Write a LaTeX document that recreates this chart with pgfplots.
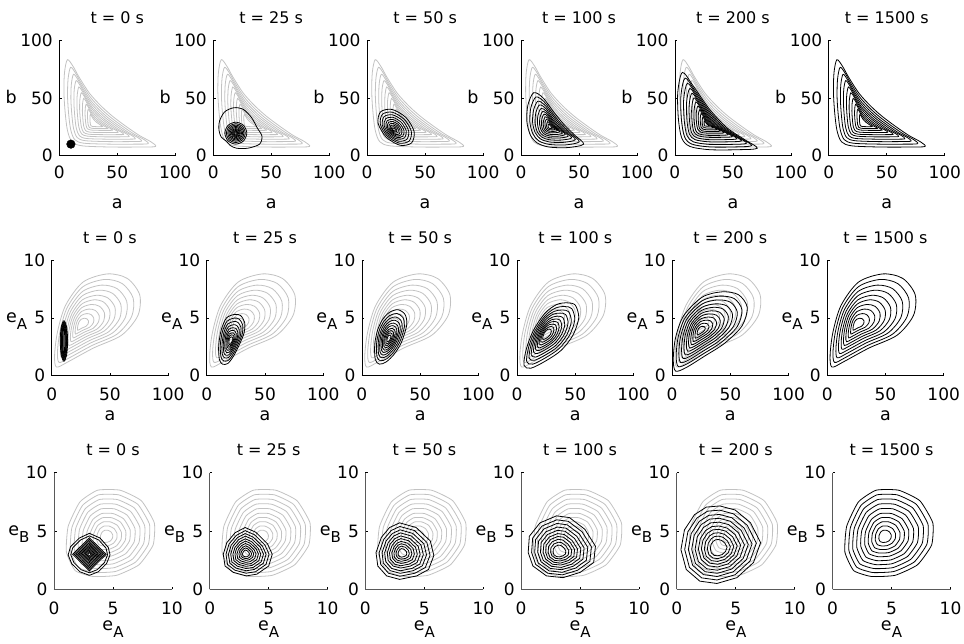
\documentclass[border=0pt]{standalone}
\usepackage{fontspec}
\setmainfont{DejaVu Sans}
\usepackage{pgfplots}
\pgfplotsset{compat=1.18}
\definecolor{cgray}{gray}{0.76}
\newcommand\tf{\fontsize{17}{17}\selectfont}
\newcommand\lf{\fontsize{17.5}{17.5}\selectfont}
\newcommand\ttf{\fontsize{16}{16}\selectfont}
\newcommand\sub[1]{\raisebox{-7pt}{\fontsize{15}{15}\selectfont #1}}
\newcommand\CC[2]{\addplot[#1] coordinates {#2};}
\pgfplotsset{
 gc/.style={draw=cgray, line width=0.8pt, smooth cycle, mark=none},
 bc/.style={draw=black, line width=0.8pt, smooth cycle, mark=none},
 gq/.style={draw=cgray, line width=0.8pt, smooth cycle, tension=0.3, mark=none},
 bq/.style={draw=black, line width=0.8pt, smooth cycle, tension=0.3, mark=none},
 bp/.style={draw=black, line width=0.8pt, sharp cycle, mark=none},
 base/.style={scale only axis, anchor=south west, axis lines=left,
   axis line style={-, line width=0.8pt, black}, tick align=inside,
   major tick length=2.5pt, every tick/.style={black, line width=0.7pt},
   /pgf/number format/assume math mode=true,
   tick label style={font=\tf},
   every axis title/.style={at={(0.5,1)}, anchor=base, yshift=17pt}},
 rowA/.style={base, width=116pt, height=115.7pt, xmin=0, xmax=100, ymin=0, ymax=100,
   xtick={0,50,100}, ytick={0,50,100}, xlabel={a}, ylabel={b},
   every axis x label/.style={at={(0.5,0)}, anchor=base, yshift=-52.5pt, font=\lf},
   every axis y label/.style={at={(0,0.5)}, anchor=base east, xshift=-39pt, yshift=-6pt, font=\lf},
   xticklabel style={yshift=-7pt}, yticklabel style={xshift=-3pt}},
 rowB/.style={base, width=116.5pt, height=115.7pt, xmin=0, xmax=100, ymin=0, ymax=10,
   xtick={0,50,100}, ytick={0,5,10}, xlabel={a}, ylabel={e\sub{A}},
   every axis x label/.style={at={(0.5,0)}, anchor=base, yshift=-44.3pt, font=\lf},
   every axis y label/.style={at={(0,0.5)}, anchor=base east, xshift=-21pt, yshift=-4.5pt, font=\lf},
   xticklabel style={yshift=-8.5pt}, yticklabel style={xshift=-3pt}},
 rowC/.style={base, width=118pt, height=116.6pt, xmin=0, xmax=10, ymin=0, ymax=10,
   xtick={0,5,10}, ytick={0,5,10}, xlabel={e\sub{A}}, ylabel={e\sub{B}},
   axis line style={black!65},
   every axis x label/.style={at={(0.5,0)}, anchor=base, yshift=-40.7pt, font=\lf},
   every axis y label/.style={at={(0,0.5)}, anchor=base east, xshift=-21pt, yshift=-4.5pt, font=\lf},
   xticklabel style={yshift=-9.5pt}, yticklabel style={xshift=-3pt}},
}
% ---------- row 1: final distribution ----------
\newcommand\FamA[1]{%
\CC{#1}{(7,83)(4.5,72)(4,55)(5,38)(7,22)(11,12)(20,8.5)(45,7.5)(70,7.5)(83,8)(79,12)(69,17.5)(58,25)(46,34)(36,43)(26,54)(17,68)(12,77)}
\CC{#1}{(9.8,76.4)(7.6,66.7)(7.1,51.8)(8,36.8)(9.8,22.7)(13.3,13.9)(21.2,10.8)(43.2,10)(65.2,10)(76.6,10.4)(73.1,13.9)(64.3,18.8)(54.6,25.4)(44.1,33.3)(35.3,41.2)(26.5,50.9)(18.6,63.2)(14.2,71.1)}
\CC{#1}{(12.3,70.4)(10.4,61.9)(10,48.8)(10.8,35.7)(12.3,23.4)(15.4,15.7)(22.3,13)(41.6,12.2)(60.8,12.2)(70.8,12.6)(67.7,15.7)(60,19.9)(51.6,25.7)(42.3,32.6)(34.6,39.6)(26.9,48)(20,58.8)(16.1,65.7)}
\CC{#1}{(14.6,64.9)(12.9,57.5)(12.6,46.1)(13.3,34.7)(14.6,24)(17.3,17.3)(23.3,14.9)(40.1,14.3)(56.8,14.3)(65.5,14.6)(62.8,17.3)(56.1,21)(48.8,26)(40.7,32)(34,38.1)(27.3,45.4)(21.3,54.8)(17.9,60.8)}
\CC{#1}{(16.9,59.4)(15.5,53.1)(15.2,43.4)(15.8,33.7)(16.9,24.6)(19.2,18.9)(24.3,16.9)(38.6,16.3)(52.8,16.3)(60.2,16.6)(57.9,18.9)(52.2,22)(46,26.3)(39.1,31.4)(33.4,36.6)(27.7,42.8)(22.6,50.8)(19.7,55.9)}
\CC{#1}{(19,54.4)(17.8,49.1)(17.5,41)(18,32.8)(19,25.1)(20.9,20.3)(25.2,18.6)(37.2,18.2)(49.2,18.2)(55.4,18.4)(53.5,20.3)(48.7,23)(43.4,26.6)(37.7,30.9)(32.9,35.2)(28.1,40.5)(23.8,47.2)(21.4,51.5)}
\CC{#1}{(21,49.5)(20.1,45.2)(19.9,38.5)(20.3,31.9)(21,25.7)(22.6,21.8)(26.1,20.4)(35.9,20)(45.6,20)(50.7,20.2)(49.1,21.8)(45.2,23.9)(40.9,26.8)(36.2,30.3)(32.3,33.9)(28.4,38.1)(24.9,43.6)(23,47.1)}
\CC{#1}{(23.1,44.5)(22.4,41.2)(22.2,36.1)(22.5,31)(23.1,26.2)(24.3,23.2)(27,22.2)(34.5,21.9)(42,21.9)(45.9,22)(44.7,23.2)(41.7,24.9)(38.4,27.1)(34.8,29.8)(31.8,32.5)(28.8,35.8)(26.1,40)(24.6,42.7)}
\CC{#1}{(24.9,40.1)(24.4,37.7)(24.3,33.9)(24.5,30.2)(24.9,26.7)(25.8,24.5)(27.8,23.7)(33.3,23.5)(38.8,23.5)(41.7,23.6)(40.8,24.5)(38.6,25.7)(36.2,27.3)(33.5,29.3)(31.3,31.3)(29.1,33.7)(27.1,36.8)(26,38.8)}
\CC{#1}{(26.8,35.7)(26.4,34.2)(26.4,31.8)(26.5,29.4)(26.8,27.2)(27.3,25.8)(28.6,25.3)(32.1,25.1)(35.6,25.1)(37.4,25.2)(36.9,25.8)(35.5,26.5)(33.9,27.6)(32.2,28.8)(30.8,30.1)(29.4,31.6)(28.2,33.6)(27.5,34.9)}
}
\newcommand\PanAb{%
\CC{bc}{(18,41.5)(10,38)(5.5,30)(5,22)(7,16)(11.5,12.5)(14.5,9)(20,6.5)(30,6.5)(40,10)(42,17)(38,24)(33,33)(26,40)}
\CC{bc}{(29,19.5)(26.2,26.2)(19.5,29)(12.8,26.2)(10,19.5)(12.8,12.8)(19.5,10)(26.2,12.8)}
\CC{bc}{(27.7,19.5)(25.3,25.3)(19.5,27.7)(13.7,25.3)(11.3,19.5)(13.7,13.7)(19.5,11.3)(25.3,13.7)}
\CC{bc}{(26.5,19.5)(24.45,24.45)(19.5,26.5)(14.55,24.45)(12.5,19.5)(14.55,14.55)(19.5,12.5)(24.45,14.55)}
\CC{bc}{(25.4,19.5)(23.67,23.67)(19.5,25.4)(15.33,23.67)(13.6,19.5)(15.33,15.33)(19.5,13.6)(23.67,15.33)}
\CC{bc}{(24.4,19.5)(22.96,22.96)(19.5,24.4)(16.04,22.96)(14.6,19.5)(16.04,16.04)(19.5,14.6)(22.96,16.04)}
\CC{bc}{(23.5,19.5)(22.33,22.33)(19.5,23.5)(16.67,22.33)(15.5,19.5)(16.67,16.67)(19.5,15.5)(22.33,16.67)}
\CC{bc}{(22.7,19.5)(21.76,21.76)(19.5,22.7)(17.24,21.76)(16.3,19.5)(17.24,17.24)(19.5,16.3)(21.76,17.24)}
\CC{bc}{(21.9,19.5)(21.2,21.2)(19.5,21.9)(17.8,21.2)(17.1,19.5)(17.8,17.8)(19.5,17.1)(21.2,17.8)}
\CC{bc}{(21.2,19.5)(20.7,20.7)(19.5,21.2)(18.3,20.7)(17.8,19.5)(18.3,18.3)(19.5,17.8)(20.7,18.3)}
\CC{bc}{(20.5,19.5)(20.21,20.21)(19.5,20.5)(18.79,20.21)(18.5,19.5)(18.79,18.79)(19.5,18.5)(20.21,18.79)}
}
\newcommand\PanAc{%
\CC{bc}{(38.4,11.1)(40.5,21)(33.5,33)(21.5,40)(11.6,37.9)(9.5,28)(16.5,16)(28.5,9)}
\CC{bc}{(36.3,12.7)(38.1,21.2)(32,31.5)(21.7,37.6)(13.2,35.8)(11.4,27.2)(17.4,16.9)(27.7,10.9)}
\CC{bc}{(34.3,14.2)(35.8,21.4)(30.7,30.2)(21.9,35.3)(14.7,33.8)(13.1,26.5)(18.3,17.8)(27,12.6)}
\CC{bc}{(32.4,15.5)(33.7,21.6)(29.4,28.9)(22.1,33.2)(16,31.9)(14.8,25.9)(19,18.5)(26.4,14.3)}
\CC{bc}{(30.7,16.8)(31.8,21.8)(28.2,27.7)(22.3,31.3)(17.3,30.2)(16.3,25.3)(19.8,19.3)(25.8,15.8)}
\CC{bc}{(29.2,17.9)(30,21.9)(27.2,26.7)(22.4,29.5)(18.4,28.7)(17.6,24.7)(20.4,19.9)(25.2,17.1)}
\CC{bc}{(27.8,19)(28.4,22)(26.3,25.8)(22.5,27.9)(19.5,27.3)(18.8,24.2)(21,20.5)(24.7,18.3)}
\CC{bc}{(26.6,19.9)(27,22.2)(25.4,24.9)(22.7,26.5)(20.4,26.1)(19.9,23.8)(21.5,21)(24.3,19.4)}
\CC{bc}{(25.3,20.8)(25.6,22.3)(24.6,24.1)(22.8,25.1)(21.3,24.8)(21,23.3)(22,21.5)(23.8,20.5)}
\CC{bc}{(24.2,21.6)(24.4,22.4)(23.8,23.3)(22.9,23.9)(22.1,23.7)(21.9,22.9)(22.5,22)(23.4,21.4)}
}
\newcommand\PanAd{%
\CC{bc}{(11,54.5)(6,44)(5,30)(8,18)(14,11)(24,7.5)(40,7)(54,10)(46,18)(37,27)(28,38)(19,50)}
\CC{bc}{(12.8,50.7)(8.5,41.5)(7.6,29.4)(10.2,18.9)(15.4,12.8)(24.1,9.8)(38.1,9.3)(50.2,12)(43.3,18.9)(35.4,26.7)(27.6,36.3)(19.8,46.8)}
\CC{bc}{(14.5,47.1)(10.8,39.3)(10,28.8)(12.3,19.8)(16.8,14.5)(24.3,11.9)(36.3,11.5)(46.8,13.8)(40.8,19.8)(34,26.5)(27.3,34.8)(20.5,43.8)}
\CC{bc}{(16,43.9)(12.8,37.2)(12.2,28.2)(14.1,20.5)(18,16)(24.4,13.8)(34.6,13.5)(43.6,15.4)(38.4,20.5)(32.7,26.3)(26.9,33.3)(21.2,41)}
\CC{bc}{(17.4,40.9)(14.7,35.3)(14.2,27.7)(15.8,21.2)(19.1,17.4)(24.5,15.6)(33.1,15.3)(40.7,16.9)(36.3,21.2)(31.5,26.1)(26.6,32)(21.8,38.5)}
\CC{bc}{(18.7,38.3)(16.5,33.6)(16,27.3)(17.4,21.9)(20.1,18.7)(24.6,17.1)(31.8,16.9)(38.1,18.3)(34.5,21.9)(30.4,25.9)(26.4,30.9)(22.3,36.3)}
\CC{bc}{(19.8,35.9)(18,32)(17.6,26.9)(18.7,22.4)(20.9,19.8)(24.6,18.5)(30.6,18.3)(35.7,19.5)(32.8,22.4)(29.4,25.7)(26.1,29.8)(22.8,34.3)}
\CC{bc}{(20.9,33.6)(19.5,30.5)(19.2,26.5)(20.1,23)(21.8,20.9)(24.7,19.9)(29.4,19.8)(33.4,20.7)(31.1,23)(28.5,25.6)(25.9,28.8)(23.3,32.3)}
\CC{bc}{(21.9,31.5)(20.8,29.2)(20.6,26.1)(21.3,23.5)(22.6,21.9)(24.8,21.2)(28.3,21)(31.4,21.7)(29.6,23.5)(27.6,25.4)(25.7,27.9)(23.7,30.5)}
\CC{bc}{(22.9,29.4)(22.2,27.9)(22,25.8)(22.5,24)(23.4,22.9)(24.9,22.4)(27.3,22.3)(29.4,22.8)(28.2,24)(26.8,25.3)(25.5,27)(24.1,28.8)}
\CC{bc}{(23.9,27.4)(23.5,26.5)(23.4,25.4)(23.6,24.4)(24.1,23.9)(24.9,23.6)(26.2,23.6)(27.3,23.8)(26.7,24.4)(26,25.2)(25.2,26)(24.5,27)}
}
\newcommand\PanAe{%
\CC{bc}{(6.5,72)(2.5,55)(3,32)(6,15)(13,8)(30,5.2)(55,5.2)(71,6.5)(60,14)(45,24)(30,40)(16,60)}
\CC{bc}{(8.8,67.1)(5.2,51.9)(5.6,31.5)(8.3,16.3)(14.5,10.1)(29.7,7.6)(51.9,7.6)(66.2,8.8)(56.4,15.4)(43,24.3)(29.7,38.6)(17.2,56.4)}
\CC{bc}{(10.8,62.6)(7.6,49.1)(8,31)(10.4,17.5)(15.9,12)(29.4,9.8)(49.1,9.8)(61.8,10.8)(53.1,16.7)(41.2,24.6)(29.4,37.3)(18.3,53.1)}
\CC{bc}{(12.9,58.1)(10.1,46.3)(10.4,30.5)(12.5,18.7)(17.3,13.9)(29.1,12)(46.3,12)(57.4,12.9)(49.8,18)(39.4,24.9)(29.1,36)(19.4,49.8)}
\CC{bc}{(14.7,54)(12.3,43.8)(12.6,30)(14.4,19.8)(18.6,15.6)(28.8,13.9)(43.8,13.9)(53.4,14.7)(46.8,19.2)(37.8,25.2)(28.8,34.8)(20.4,46.8)}
\CC{bc}{(16.5,50)(14.5,41.3)(14.8,29.6)(16.3,20.9)(19.9,17.3)(28.5,15.9)(41.3,15.9)(49.4,16.5)(43.8,20.4)(36.2,25.5)(28.5,33.6)(21.4,43.8)}
\CC{bc}{(18.2,46.4)(16.5,39)(16.7,29.2)(18,21.8)(21,18.8)(28.3,17.6)(39,17.6)(45.9,18.2)(41.2,21.4)(34.7,25.7)(28.3,32.6)(22.3,41.2)}
\CC{bc}{(19.8,42.8)(18.4,36.8)(18.6,28.8)(19.7,22.8)(22.1,20.4)(28.1,19.4)(36.8,19.4)(42.4,19.8)(38.6,22.5)(33.3,26)(28.1,31.6)(23.2,38.6)}
\CC{bc}{(21.3,39.6)(20.1,34.8)(20.3,28.4)(21.1,23.6)(23.1,21.7)(27.8,20.9)(34.8,20.9)(39.3,21.3)(36.2,23.4)(32,26.2)(27.8,30.6)(23.9,36.2)}
\CC{bc}{(22.7,36.5)(21.9,32.9)(22,28.1)(22.6,24.5)(24.1,23)(27.6,22.4)(32.9,22.4)(36.2,22.7)(33.9,24.3)(30.8,26.4)(27.6,29.7)(24.7,33.9)}
\CC{bc}{(24.1,33.3)(23.6,30.9)(23.6,27.7)(24.1,25.3)(25,24.3)(27.4,23.9)(30.9,23.9)(33.2,24.1)(31.6,25.2)(29.5,26.6)(27.4,28.8)(25.5,31.6)}
\CC{bc}{(25.6,30.2)(25.3,29)(25.3,27.4)(25.5,26.2)(26,25.7)(27.2,25.5)(29,25.5)(30.1,25.6)(29.3,26.1)(28.3,26.8)(27.2,27.9)(26.2,29.3)}
}
% ---------- row 2 ----------
\newcommand\FamB[1]{%
\CC{#1}{(48,8.8)(65,8.4)(75.5,7)(74,5.2)(60,3.5)(36,2.4)(14,1.2)(4,0.75)(2.5,1.8)(5,3.8)(12,6.1)(27,8.1)}
\CC{#1}{(45.5,8.32)(60.6,7.96)(69.9,6.71)(68.6,5.11)(56.2,3.6)(34.8,2.62)(15.2,1.55)(6.3,1.15)(5,2.09)(7.2,3.87)(13.4,5.91)(26.8,7.69)}
\CC{#1}{(42.9,7.83)(56.2,7.52)(64.4,6.43)(63.2,5.02)(52.3,3.7)(33.6,2.84)(16.4,1.9)(8.6,1.55)(7.5,2.37)(9.4,3.93)(14.9,5.73)(26.6,7.29)}
\CC{#1}{(40.6,7.39)(52.2,7.12)(59.3,6.17)(58.3,4.94)(48.8,3.79)(32.5,3.04)(17.5,2.22)(10.7,1.92)(9.7,2.63)(11.4,3.99)(16.2,5.56)(26.4,6.92)}
\CC{#1}{(38.3,6.95)(48.2,6.72)(54.3,5.91)(53.4,4.86)(45.3,3.88)(31.4,3.24)(18.6,2.54)(12.8,2.28)(12,2.89)(13.4,4.05)(17.5,5.39)(26.2,6.55)}
\CC{#1}{(36.3,6.56)(44.6,6.36)(49.7,5.67)(49,4.79)(42.2,3.96)(30.4,3.42)(19.6,2.83)(14.7,2.61)(14,3.13)(15.2,4.11)(18.6,5.23)(26,6.21)}
\CC{#1}{(34.2,6.16)(41,6)(45.2,5.44)(44.6,4.72)(39,4.04)(29.4,3.6)(20.6,3.12)(16.6,2.94)(16,3.36)(17,4.16)(19.8,5.08)(25.8,5.88)}
\CC{#1}{(32.1,5.76)(37.4,5.64)(40.7,5.21)(40.2,4.65)(35.9,4.12)(28.4,3.78)(21.6,3.41)(18.5,3.27)(18,3.59)(18.8,4.21)(21,4.93)(25.6,5.55)}
\CC{#1}{(30.1,5.37)(33.8,5.28)(36.1,4.97)(35.8,4.58)(32.7,4.2)(27.4,3.96)(22.6,3.7)(20.4,3.6)(20.1,3.83)(20.6,4.27)(22.1,4.77)(25.4,5.21)}
\CC{#1}{(28,4.97)(30.2,4.92)(31.6,4.74)(31.4,4.5)(29.6,4.28)(26.4,4.14)(23.6,3.98)(22.3,3.93)(22.1,4.06)(22.4,4.32)(23.3,4.62)(25.3,4.88)}
}
\newcommand\PanBa{%
\CC{bc}{(13.7,3)(12.76,4.24)(10.5,4.75)(8.24,4.24)(7.3,3)(8.24,1.76)(10.5,1.25)(12.76,1.76)}
\CC{bc}{(13.2,3)(12.41,4.17)(10.5,4.65)(8.59,4.17)(7.8,3)(8.59,1.83)(10.5,1.35)(12.41,1.83)}
\CC{bc}{(12.7,3)(12.06,4.1)(10.5,4.55)(8.94,4.1)(8.3,3)(8.94,1.9)(10.5,1.45)(12.06,1.9)}
\CC{bc}{(12.2,3)(11.7,4.03)(10.5,4.45)(9.3,4.03)(8.8,3)(9.3,1.97)(10.5,1.55)(11.7,1.97)}
\CC{bc}{(11.7,3)(11.35,3.95)(10.5,4.35)(9.65,3.95)(9.3,3)(9.65,2.05)(10.5,1.65)(11.35,2.05)}
\CC{bc}{(11.2,3)(10.99,3.88)(10.5,4.25)(10.01,3.88)(9.8,3)(10.01,2.12)(10.5,1.75)(10.99,2.12)}
}
\newcommand\PanBb{%
\CC{bc}{(24,5.3)(17,5)(12.5,4)(10.2,2.6)(10.8,1.4)(13.5,1)(18,1.05)(23,1.7)(28,2.7)(32,3.7)(32.5,4.6)(29,5.2)}
\CC{bc}{(23.5,4.98)(17.5,4.72)(13.6,3.86)(11.6,2.66)(12.2,1.62)(14.5,1.28)(18.4,1.32)(22.7,1.88)(27,2.74)(30.4,3.6)(30.8,4.38)(27.8,4.89)}
\CC{bc}{(23.1,4.68)(17.9,4.46)(14.7,3.73)(13,2.71)(13.4,1.83)(15.4,1.54)(18.7,1.58)(22.3,2.05)(26,2.78)(28.9,3.51)(29.3,4.17)(26.7,4.61)}
\CC{bc}{(22.6,4.4)(18.4,4.22)(15.6,3.61)(14.2,2.76)(14.6,2.02)(16.2,1.78)(19,1.81)(22,2.21)(25.1,2.82)(27.5,3.43)(27.8,3.98)(25.7,4.34)}
\CC{bc}{(22.3,4.15)(18.8,4)(16.5,3.5)(15.4,2.8)(15.7,2.2)(17,2)(19.3,2.03)(21.8,2.35)(24.3,2.85)(26.3,3.35)(26.5,3.8)(24.8,4.1)}
\CC{bc}{(21.9,3.92)(19.1,3.8)(17.3,3.4)(16.4,2.84)(16.6,2.36)(17.7,2.2)(19.5,2.22)(21.5,2.48)(23.5,2.88)(25.1,3.28)(25.3,3.64)(23.9,3.88)}
\CC{bc}{(21.6,3.71)(19.4,3.62)(18,3.31)(17.3,2.88)(17.5,2.5)(18.3,2.38)(19.7,2.4)(21.3,2.6)(22.8,2.91)(24.1,3.22)(24.2,3.5)(23.1,3.68)}
\CC{bc}{(21.3,3.53)(19.7,3.46)(18.7,3.23)(18.1,2.91)(18.3,2.63)(18.9,2.54)(19.9,2.55)(21.1,2.7)(22.2,2.93)(23.1,3.16)(23.3,3.37)(22.5,3.51)}
\CC{bc}{(21,3.35)(20,3.3)(19.3,3.15)(19,2.94)(19,2.76)(19.5,2.7)(20.1,2.71)(20.9,2.81)(21.6,2.96)(22.2,3.11)(22.3,3.24)(21.8,3.33)}
}
\newcommand\PanBc{%
\CC{bc}{(31,5.7)(24,5.5)(18,4.9)(13.5,3.95)(11,2.7)(11.5,1.4)(15,1)(21,1.2)(28,1.9)(34,2.9)(38.5,4.4)(37,5.3)}
\CC{bc}{(30,5.38)(23.9,5.2)(18.7,4.68)(14.7,3.85)(12.6,2.77)(13,1.63)(16,1.29)(21.3,1.46)(27.4,2.07)(32.6,2.94)(36.5,4.24)(35.2,5.03)}
\CC{bc}{(29,5.08)(23.8,4.93)(19.3,4.48)(15.9,3.76)(14,2.83)(14.4,1.85)(17,1.55)(21.5,1.7)(26.8,2.23)(31.3,2.98)(34.6,4.1)(33.5,4.78)}
\CC{bc}{(28.1,4.8)(23.6,4.67)(19.8,4.29)(16.9,3.68)(15.3,2.88)(15.6,2.05)(17.9,1.79)(21.7,1.92)(26.2,2.37)(30,3.01)(32.9,3.97)(32,4.54)}
\CC{bc}{(27.3,4.55)(23.5,4.44)(20.3,4.12)(17.9,3.61)(16.5,2.93)(16.8,2.23)(18.7,2.01)(21.9,2.12)(25.7,2.5)(28.9,3.04)(31.4,3.85)(30.6,4.33)}
\CC{bc}{(26.6,4.33)(23.5,4.24)(20.8,3.97)(18.7,3.54)(17.6,2.98)(17.8,2.39)(19.4,2.21)(22.1,2.3)(25.3,2.62)(28,3.07)(30,3.74)(29.3,4.15)}
\CC{bc}{(25.9,4.1)(23.4,4.03)(21.2,3.81)(19.6,3.47)(18.7,3.02)(18.9,2.55)(20.1,2.41)(22.3,2.48)(24.8,2.73)(27,3.09)(28.6,3.63)(28,3.96)}
\CC{bc}{(25.2,3.9)(23.3,3.84)(21.6,3.68)(20.3,3.41)(19.6,3.06)(19.8,2.7)(20.8,2.58)(22.4,2.64)(24.4,2.84)(26.1,3.12)(27.3,3.54)(26.9,3.79)}
\CC{bc}{(24.6,3.7)(23.2,3.66)(22,3.54)(21.1,3.35)(20.6,3.1)(20.7,2.84)(21.4,2.76)(22.6,2.8)(24,2.94)(25.2,3.14)(26.1,3.44)(25.8,3.62)}
\CC{bc}{(24,3.5)(23.1,3.48)(22.4,3.4)(21.9,3.29)(21.6,3.14)(21.6,2.98)(22,2.94)(22.8,2.96)(23.6,3.04)(24.3,3.16)(24.9,3.34)(24.7,3.45)}
}
\newcommand\PanBd{%
\CC{bc}{(43,6.3)(50,6.1)(53,5)(48,3.5)(38,2.2)(25,1.3)(12,0.65)(6,0.9)(8,2.3)(14,3.9)(24,5.4)(34,6.15)}
\CC{bc}{(40.8,5.98)(47,5.8)(49.6,4.83)(45.2,3.51)(36.4,2.37)(25,1.58)(13.6,1)(8.3,1.22)(10,2.46)(15.3,3.86)(24.1,5.18)(32.9,5.84)}
\CC{bc}{(38.9,5.68)(44.3,5.53)(46.6,4.68)(42.7,3.52)(35,2.52)(25,1.83)(15,1.33)(10.4,1.52)(11.9,2.6)(16.5,3.83)(24.2,4.99)(31.9,5.56)}
\CC{bc}{(37.1,5.41)(41.8,5.28)(43.8,4.54)(40.4,3.53)(33.7,2.66)(25,2.06)(16.3,1.62)(12.3,1.79)(13.6,2.73)(17.6,3.8)(24.3,4.81)(31,5.31)}
\CC{bc}{(35.3,5.14)(39.3,5.03)(41,4.4)(38.1,3.54)(32.4,2.8)(25,2.29)(17.6,1.92)(14.2,2.06)(15.3,2.86)(18.7,3.77)(24.4,4.63)(30.1,5.05)}
\CC{bc}{(33.6,4.9)(37,4.8)(38.4,4.27)(36,3.55)(31.2,2.93)(25,2.5)(18.8,2.18)(15.9,2.3)(16.8,2.98)(19.7,3.74)(24.5,4.46)(29.3,4.82)}
\CC{bc}{(32.2,4.68)(35,4.6)(36.2,4.16)(34.2,3.56)(30.2,3.04)(25,2.68)(19.8,2.42)(17.4,2.52)(18.2,3.08)(20.6,3.72)(24.6,4.32)(28.6,4.62)}
\CC{bc}{(30.8,4.46)(33,4.4)(34,4.05)(32.4,3.57)(29.2,3.15)(25,2.86)(20.8,2.66)(18.9,2.74)(19.6,3.18)(21.5,3.7)(24.7,4.18)(27.9,4.42)}
\CC{bc}{(29.3,4.25)(31,4.2)(31.7,3.94)(30.5,3.58)(28.1,3.26)(25,3.05)(21.9,2.89)(20.4,2.95)(20.9,3.29)(22.4,3.67)(24.8,4.03)(27.2,4.21)}
\CC{bc}{(27.9,4.03)(29,4)(29.5,3.82)(28.7,3.58)(27.1,3.38)(25,3.23)(22.9,3.13)(22,3.17)(22.3,3.39)(23.2,3.65)(24.8,3.89)(26.4,4.01)}
}
\newcommand\PanBe{%
\CC{bc}{(43,7.25)(57,7)(64.5,5.9)(60,4.3)(45,2.8)(28,1.7)(12,0.7)(3,0.4)(1,1.4)(3,3.3)(10,5.2)(26,6.8)}
\CC{bc}{(40.9,6.88)(53.4,6.66)(60,5.68)(56,4.26)(42.7,2.92)(27.6,1.94)(13.3,1.05)(5.3,0.79)(3.5,1.68)(5.3,3.37)(11.5,5.06)(25.8,6.48)}
\CC{bc}{(39,6.55)(50.1,6.35)(56,5.48)(52.4,4.22)(40.6,3.03)(27.2,2.16)(14.5,1.37)(7.4,1.14)(5.8,1.93)(7.4,3.43)(12.9,4.93)(25.6,6.19)}
\CC{bc}{(37.1,6.21)(46.8,6.04)(51.9,5.28)(48.8,4.18)(38.5,3.14)(26.8,2.38)(15.7,1.69)(9.5,1.49)(8.1,2.18)(9.5,3.49)(14.3,4.8)(25.4,5.9)}
\CC{bc}{(35.4,5.91)(43.8,5.76)(48.3,5.1)(45.6,4.14)(36.6,3.24)(26.4,2.58)(16.8,1.98)(11.4,1.8)(10.2,2.4)(11.4,3.54)(15.6,4.68)(25.2,5.64)}
\CC{bc}{(33.7,5.61)(40.8,5.48)(44.7,4.92)(42.4,4.1)(34.7,3.34)(26,2.78)(17.9,2.27)(13.3,2.12)(12.3,2.63)(13.3,3.59)(16.9,4.56)(25,5.38)}
\CC{bc}{(32.2,5.34)(38.2,5.23)(41.4,4.76)(39.5,4.07)(33,3.43)(25.7,2.95)(18.8,2.52)(15,2.4)(14.1,2.83)(15,3.64)(18,4.46)(24.9,5.15)}
\CC{bc}{(30.7,5.07)(35.6,4.99)(38.2,4.6)(36.6,4.04)(31.4,3.52)(25.4,3.13)(19.8,2.78)(16.7,2.68)(16,3.03)(16.7,3.69)(19.1,4.36)(24.7,4.92)}
\CC{bc}{(29.1,4.8)(32.9,4.74)(34.9,4.44)(33.7,4.01)(29.7,3.6)(25.1,3.31)(20.8,3.04)(18.3,2.96)(17.8,3.23)(18.3,3.74)(20.2,4.25)(24.5,4.68)}
\CC{bc}{(27.6,4.54)(30.3,4.49)(31.7,4.28)(30.8,3.98)(28,3.69)(24.8,3.48)(21.7,3.29)(20,3.24)(19.6,3.43)(20,3.79)(21.3,4.15)(24.4,4.45)}
\CC{bc}{(26.1,4.27)(27.6,4.24)(28.5,4.12)(28,3.94)(26.3,3.78)(24.4,3.66)(22.7,3.55)(21.7,3.52)(21.5,3.63)(21.7,3.83)(22.5,4.04)(24.2,4.22)}
}
% ---------- row 3 ----------
\newcommand\FamC[1]{%
\CC{#1}{(3.7,8.5)(5.6,8.5)(7.4,7.6)(8.5,5.7)(8.4,3.8)(7.2,2.1)(5.3,1.2)(3.3,1.1)(1.8,1.6)(1.05,3.2)(1.2,5.4)(2.2,7.5)}
\CC{#1}{(3.77,8.1)(5.48,8.1)(7.1,7.29)(8.09,5.58)(8,3.87)(6.92,2.34)(5.21,1.53)(3.41,1.44)(2.06,1.89)(1.39,3.33)(1.52,5.31)(2.42,7.2)}
\CC{#1}{(3.84,7.7)(5.36,7.7)(6.8,6.98)(7.68,5.46)(7.6,3.94)(6.64,2.58)(5.12,1.86)(3.52,1.78)(2.32,2.18)(1.72,3.46)(1.84,5.22)(2.64,6.9)}
\CC{#1}{(3.91,7.3)(5.24,7.3)(6.5,6.67)(7.27,5.34)(7.2,4.01)(6.36,2.82)(5.03,2.19)(3.63,2.12)(2.58,2.47)(2.06,3.59)(2.16,5.13)(2.86,6.6)}
\CC{#1}{(3.98,6.9)(5.12,6.9)(6.2,6.36)(6.86,5.22)(6.8,4.08)(6.08,3.06)(4.94,2.52)(3.74,2.46)(2.84,2.76)(2.39,3.72)(2.48,5.04)(3.08,6.3)}
\CC{#1}{(4.05,6.5)(5,6.5)(5.9,6.05)(6.45,5.1)(6.4,4.15)(5.8,3.3)(4.85,2.85)(3.85,2.8)(3.1,3.05)(2.73,3.85)(2.8,4.95)(3.3,6)}
\CC{#1}{(4.11,6.14)(4.89,6.14)(5.63,5.77)(6.08,4.99)(6.04,4.21)(5.55,3.52)(4.77,3.15)(3.95,3.11)(3.33,3.31)(3.03,3.97)(3.09,4.87)(3.5,5.73)}
\CC{#1}{(4.18,5.78)(4.78,5.78)(5.36,5.49)(5.71,4.88)(5.68,4.28)(5.3,3.73)(4.69,3.44)(4.05,3.41)(3.57,3.57)(3.33,4.08)(3.38,4.79)(3.7,5.46)}
\CC{#1}{(4.24,5.42)(4.68,5.42)(5.09,5.21)(5.34,4.78)(5.32,4.34)(5.04,3.95)(4.61,3.74)(4.15,3.72)(3.8,3.83)(3.63,4.2)(3.66,4.71)(3.89,5.19)}
\CC{#1}{(4.3,5.06)(4.57,5.06)(4.82,4.93)(4.97,4.67)(4.96,4.4)(4.79,4.16)(4.53,4.04)(4.25,4.02)(4.04,4.09)(3.93,4.32)(3.95,4.63)(4.09,4.92)}
}
\newcommand\PanCa{%
\CC{bp}{(3,4.8)(3.9,4.4)(4.6,3.6)(4.75,2.95)(4.45,2.2)(3.75,1.5)(3,1.2)(2.2,1.5)(1.5,2.2)(1.2,2.95)(1.4,3.65)(2.15,4.4)}
\CC{bp}{(3,4.58)(3.79,4.23)(4.41,3.53)(4.54,2.96)(4.28,2.3)(3.66,1.68)(3,1.42)(2.3,1.68)(1.68,2.3)(1.42,2.96)(1.59,3.57)(2.25,4.23)}
\CC{bp}{(3,4.42)(4.42,3)(3,1.58)(1.58,3)}
\CC{bp}{(3,4.28)(4.28,3)(3,1.72)(1.72,3)}
\CC{bp}{(3,4.14)(4.14,3)(3,1.86)(1.86,3)}
\CC{bp}{(3,4)(4,3)(3,2)(2,3)}
\CC{bp}{(3,3.87)(3.87,3)(3,2.13)(2.13,3)}
\CC{bp}{(3,3.74)(3.74,3)(3,2.26)(2.26,3)}
\CC{bp}{(3,3.62)(3.62,3)(3,2.38)(2.38,3)}
\CC{bp}{(3,3.5)(3.5,3)(3,2.5)(2.5,3)}
\CC{bp}{(3,3.38)(3.38,3)(3,2.62)(2.62,3)}
\CC{bp}{(3,3.26)(3.26,3)(3,2.74)(2.74,3)}
\CC{bp}{(3,3.14)(3.14,3)(3,2.86)(2.86,3)}
}
\newcommand\PanCb{%
\CC{bp}{(3,5.3)(3.9,4.9)(4.9,3.9)(5.3,3)(5,2)(4,1.3)(3.1,1.15)(2,1.45)(1.3,2)(1.15,3)(1.45,4)(2.15,4.85)}
\CC{bp}{(3.01,5.03)(3.8,4.68)(4.68,3.8)(5.03,3.01)(4.77,2.13)(3.89,1.51)(3.09,1.38)(2.13,1.64)(1.51,2.13)(1.38,3.01)(1.64,3.89)(2.26,4.63)}
\CC{bp}{(3.01,4.78)(3.7,4.47)(4.47,3.7)(4.78,3.01)(4.55,2.24)(3.78,1.7)(3.09,1.59)(2.24,1.82)(1.7,2.24)(1.59,3.01)(1.82,3.78)(2.36,4.44)}
\CC{bp}{(3.02,4.56)(3.62,4.29)(4.29,3.62)(4.56,3.02)(4.36,2.35)(3.69,1.88)(3.08,1.78)(2.35,1.98)(1.88,2.35)(1.78,3.02)(1.98,3.69)(2.45,4.26)}
\CC{bp}{(3.02,4.33)(3.53,4.1)(4.1,3.53)(4.33,3.02)(4.16,2.45)(3.59,2.05)(3.08,1.97)(2.45,2.14)(2.05,2.45)(1.97,3.02)(2.14,3.59)(2.54,4.08)}
\CC{bp}{(3.03,4.13)(3.46,3.94)(3.94,3.46)(4.13,3.03)(3.99,2.55)(3.51,2.21)(3.07,2.14)(2.55,2.28)(2.21,2.55)(2.14,3.03)(2.28,3.51)(2.62,3.91)}
\CC{bp}{(3.03,3.93)(3.38,3.77)(3.77,3.38)(3.93,3.03)(3.81,2.64)(3.42,2.37)(3.07,2.31)(2.64,2.43)(2.37,2.64)(2.31,3.03)(2.43,3.42)(2.7,3.75)}
\CC{bp}{(3.04,3.73)(3.31,3.61)(3.61,3.31)(3.73,3.04)(3.64,2.74)(3.34,2.53)(3.07,2.48)(2.74,2.57)(2.53,2.74)(2.48,3.04)(2.57,3.34)(2.78,3.59)}
\CC{bp}{(3.04,3.55)(3.24,3.46)(3.46,3.24)(3.55,3.04)(3.48,2.82)(3.26,2.67)(3.06,2.63)(2.82,2.7)(2.67,2.82)(2.63,3.04)(2.7,3.26)(2.85,3.45)}
\CC{bp}{(3.04,3.37)(3.17,3.31)(3.31,3.17)(3.37,3.04)(3.32,2.9)(3.18,2.81)(3.06,2.78)(2.9,2.83)(2.81,2.9)(2.78,3.04)(2.83,3.18)(2.92,3.3)}
}
\newcommand\PanCc{%
\CC{bp}{(2.9,5.7)(4.3,5.3)(5.5,4.15)(5.8,2.9)(5.35,1.7)(4.35,1.15)(2.9,0.85)(1.8,1.15)(1.05,2)(0.9,3.15)(1.35,4.45)(2.05,5.3)}
\CC{bp}{(2.92,5.39)(4.16,5.04)(5.21,4.02)(5.48,2.92)(5.08,1.87)(4.2,1.38)(2.92,1.12)(1.96,1.38)(1.3,2.13)(1.16,3.14)(1.56,4.29)(2.18,5.04)}
\CC{bp}{(2.95,5.1)(4.02,4.79)(4.95,3.91)(5.18,2.95)(4.83,2.02)(4.06,1.6)(2.95,1.37)(2.1,1.6)(1.52,2.25)(1.41,3.14)(1.75,4.14)(2.29,4.79)}
\CC{bp}{(2.97,4.84)(3.9,4.57)(4.71,3.8)(4.91,2.97)(4.61,2.16)(3.94,1.79)(2.97,1.59)(2.23,1.79)(1.73,2.36)(1.63,3.13)(1.93,4)(2.4,4.57)}
\CC{bp}{(2.99,4.58)(3.78,4.35)(4.47,3.7)(4.64,2.99)(4.38,2.3)(3.81,1.99)(2.99,1.82)(2.36,1.99)(1.93,2.47)(1.85,3.13)(2.1,3.87)(2.5,4.35)}
\CC{bp}{(3,4.35)(3.68,4.16)(4.25,3.6)(4.4,3)(4.18,2.43)(3.7,2.16)(3,2.02)(2.48,2.16)(2.12,2.57)(2.04,3.12)(2.26,3.75)(2.6,4.16)}
\CC{bp}{(3.02,4.11)(3.57,3.96)(4.04,3.51)(4.15,3.02)(3.98,2.55)(3.59,2.34)(3.02,2.22)(2.59,2.34)(2.3,2.67)(2.24,3.12)(2.42,3.63)(2.69,3.96)}
\CC{bp}{(3.04,3.91)(3.47,3.78)(3.84,3.43)(3.94,3.04)(3.8,2.67)(3.49,2.5)(3.04,2.4)(2.7,2.5)(2.46,2.76)(2.42,3.12)(2.56,3.52)(2.77,3.78)}
\CC{bp}{(3.05,3.7)(3.38,3.61)(3.65,3.34)(3.72,3.05)(3.62,2.78)(3.39,2.65)(3.05,2.58)(2.8,2.65)(2.63,2.85)(2.59,3.11)(2.7,3.41)(2.86,3.61)}
\CC{bp}{(3.07,3.49)(3.28,3.43)(3.46,3.26)(3.51,3.07)(3.44,2.89)(3.29,2.81)(3.07,2.76)(2.91,2.81)(2.79,2.94)(2.77,3.11)(2.84,3.3)(2.94,3.43)}
}
\newcommand\PanCd{%
\CC{bp}{(3,6.3)(4.1,6.15)(5.4,5.15)(6.3,3.7)(6.15,2.3)(5,1.45)(3.55,1)(2.15,1.15)(1,2)(0.6,3.15)(0.7,4.55)(1.6,5.7)}
\CC{bp}{(3.02,5.96)(4,5.83)(5.16,4.94)(5.96,3.65)(5.83,2.4)(4.8,1.64)(3.51,1.24)(2.27,1.38)(1.24,2.13)(0.89,3.16)(0.98,4.4)(1.78,5.43)}
\CC{bp}{(3.04,5.65)(3.91,5.53)(4.94,4.74)(5.65,3.6)(5.53,2.49)(4.62,1.82)(3.48,1.46)(2.37,1.58)(1.46,2.25)(1.15,3.16)(1.23,4.27)(1.94,5.18)}
\CC{bp}{(3.06,5.34)(3.82,5.24)(4.72,4.55)(5.34,3.55)(5.24,2.58)(4.44,1.99)(3.44,1.68)(2.48,1.79)(1.68,2.37)(1.41,3.17)(1.48,4.13)(2.1,4.93)}
\CC{bp}{(3.08,5.06)(3.74,4.97)(4.52,4.37)(5.06,3.5)(4.97,2.66)(4.28,2.15)(3.41,1.88)(2.57,1.97)(1.88,2.48)(1.64,3.17)(1.7,4.01)(2.24,4.7)}
\CC{bp}{(3.1,4.78)(3.66,4.7)(4.32,4.19)(4.78,3.46)(4.7,2.74)(4.12,2.31)(3.38,2.08)(2.66,2.15)(2.08,2.59)(1.87,3.17)(1.93,3.89)(2.38,4.48)}
\CC{bp}{(3.11,4.53)(3.59,4.47)(4.15,4.04)(4.53,3.42)(4.47,2.81)(3.97,2.45)(3.35,2.25)(2.75,2.32)(2.25,2.68)(2.08,3.18)(2.13,3.78)(2.51,4.28)}
\CC{bp}{(3.13,4.29)(3.52,4.23)(3.97,3.88)(4.29,3.38)(4.23,2.89)(3.83,2.59)(3.32,2.43)(2.83,2.48)(2.43,2.78)(2.29,3.18)(2.33,3.67)(2.64,4.08)}
\CC{bp}{(3.15,4.04)(3.44,4)(3.79,3.73)(4.04,3.34)(4,2.96)(3.69,2.73)(3.29,2.61)(2.92,2.65)(2.61,2.88)(2.5,3.19)(2.53,3.56)(2.77,3.88)}
\CC{bp}{(3.16,3.79)(3.37,3.76)(3.62,3.57)(3.79,3.3)(3.76,3.03)(3.54,2.87)(3.27,2.78)(3,2.81)(2.78,2.97)(2.71,3.19)(2.73,3.46)(2.9,3.68)}
}
\newcommand\PanCe{%
\CC{bp}{(3.65,7.15)(4.95,6.8)(6.25,5.7)(7.1,4)(6.5,2.3)(5.1,1)(3.4,0.5)(1.95,0.7)(0.8,1.7)(0.35,3.4)(0.65,5.1)(1.5,6.4)(2.5,7.05)}
\CC{bp}{(3.64,6.79)(4.81,6.47)(5.98,5.48)(6.74,3.95)(6.2,2.42)(4.94,1.25)(3.41,0.8)(2.11,0.98)(1.07,1.88)(0.67,3.41)(0.94,4.94)(1.7,6.11)(2.6,6.7)}
\CC{bp}{(3.62,6.42)(4.66,6.14)(5.7,5.26)(6.38,3.9)(5.9,2.54)(4.78,1.5)(3.42,1.1)(2.26,1.26)(1.34,2.06)(0.98,3.42)(1.22,4.78)(1.9,5.82)(2.7,6.34)}
\CC{bp}{(3.61,6.09)(4.53,5.84)(5.45,5.06)(6.06,3.86)(5.63,2.65)(4.64,1.73)(3.43,1.37)(2.4,1.51)(1.58,2.22)(1.26,3.43)(1.48,4.64)(2.08,5.56)(2.79,6.02)}
\CC{bp}{(3.59,5.76)(4.4,5.55)(5.21,4.86)(5.73,3.81)(5.36,2.76)(4.49,1.95)(3.44,1.64)(2.54,1.76)(1.83,2.38)(1.55,3.44)(1.73,4.49)(2.26,5.3)(2.88,5.7)}
\CC{bp}{(3.58,5.43)(4.27,5.25)(4.96,4.67)(5.41,3.77)(5.09,2.86)(4.35,2.18)(3.45,1.91)(2.68,2.02)(2.07,2.55)(1.83,3.45)(1.99,4.35)(2.44,5.04)(2.97,5.38)}
\CC{bp}{(3.57,5.14)(4.15,4.99)(4.74,4.49)(5.12,3.73)(4.85,2.96)(4.22,2.38)(3.46,2.15)(2.8,2.24)(2.29,2.69)(2.08,3.46)(2.22,4.22)(2.6,4.81)(3.05,5.1)}
\CC{bp}{(3.56,4.85)(4.04,4.72)(4.52,4.31)(4.83,3.69)(4.61,3.06)(4.09,2.58)(3.46,2.39)(2.93,2.46)(2.5,2.83)(2.33,3.46)(2.45,4.09)(2.76,4.57)(3.13,4.81)}
\CC{bp}{(3.54,4.56)(3.92,4.46)(4.3,4.14)(4.54,3.65)(4.37,3.15)(3.96,2.78)(3.47,2.63)(3.05,2.69)(2.72,2.98)(2.59,3.47)(2.67,3.96)(2.92,4.34)(3.21,4.53)}
\CC{bp}{(3.53,4.27)(3.8,4.19)(4.08,3.96)(4.26,3.61)(4.13,3.25)(3.84,2.98)(3.48,2.87)(3.17,2.91)(2.93,3.12)(2.84,3.48)(2.9,3.84)(3.08,4.11)(3.29,4.25)}
}
\newcommand\PA[3]{\begin{axis}[rowA, at={(#1pt,-155.7pt)}, title={\ttf t = #2 s}] #3 \end{axis}}
\newcommand\PB[3]{\begin{axis}[rowB, at={(#1pt,-375.7pt)}, title={\ttf t = #2 s}] #3 \end{axis}}
\newcommand\PC[3]{\begin{axis}[rowC, at={(#1pt,-589.3pt)}, title={\ttf t = #2 s}] #3 \end{axis}}
\begin{document}
\begin{tikzpicture}
\path[use as bounding box] (0pt,0pt) rectangle (964pt,-643pt);
\PA{59.3}{0}{\FamA{gc}\addplot[only marks, mark=*, mark size=4.3pt, black] coordinates {(10,10)};}
\PA{213.2}{25}{\FamA{gc}\PanAb}
\PA{367.1}{50}{\FamA{gc}\PanAc}
\PA{521.0}{100}{\FamA{gc}\PanAd}
\PA{674.9}{200}{\FamA{gc}\PanAe}
\PA{828.8}{1500}{\FamA{bc}}
\PB{51.7}{0}{\FamB{gc}\PanBa}
\PB{206.8}{25}{\FamB{gc}\PanBb}
\PB{361.9}{50}{\FamB{gc}\PanBc}
\PB{517.0}{100}{\FamB{gc}\PanBd}
\PB{672.1}{200}{\FamB{gc}\PanBe}
\PB{827.2}{1500}{\FamB{bc}}
\PC{54.0}{0}{\FamC{gq}\PanCa}
\PC{209.7}{25}{\FamC{gq}\PanCb}
\PC{365.4}{50}{\FamC{gq}\PanCc}
\PC{521.1}{100}{\FamC{gq}\PanCd}
\PC{676.8}{200}{\FamC{gq}\PanCe}
\PC{832.5}{1500}{\FamC{bq}}
\end{tikzpicture}
\end{document}
